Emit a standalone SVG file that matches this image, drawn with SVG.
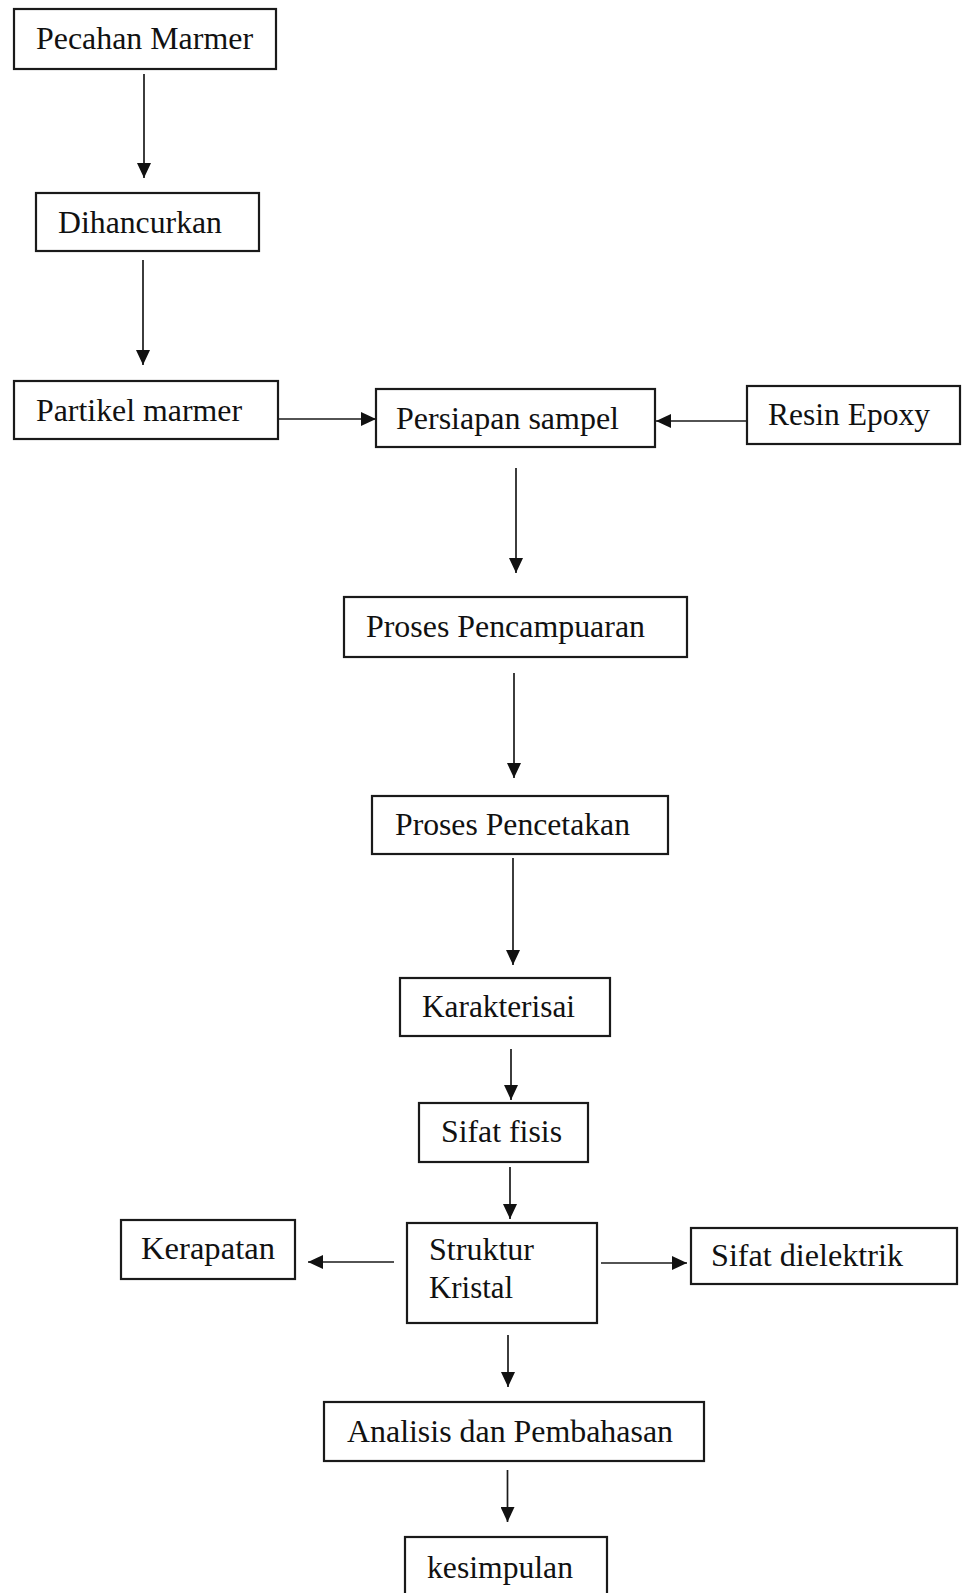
<svg xmlns="http://www.w3.org/2000/svg" width="962" height="1593" viewBox="0 0 962 1593">
<defs>
<style>
.box{fill:#fff;stroke:#1a1a1a;stroke-width:2.2}
.t{font-family:"Liberation Serif","Times New Roman",serif;font-size:32px;fill:#111}
.c{stroke:#1a1a1a;stroke-width:1.7;fill:none;marker-end:url(#ah)}
</style>
<marker id="ah" viewBox="0 0 15 14" refX="15" refY="7" markerWidth="15" markerHeight="14" markerUnits="userSpaceOnUse" orient="auto">
<path d="M0,0 L15,7 L0,14 Z" fill="#111"/>
</marker>
</defs>
<rect width="962" height="1593" fill="#fff"/>
<g id="connectors">
<line class="c" x1="144" y1="74" x2="144" y2="178"/>
<line class="c" x1="143" y1="260" x2="143" y2="365"/>
<line class="c" x1="278" y1="419" x2="376" y2="419"/>
<line class="c" x1="747" y1="421" x2="656" y2="421"/>
<line class="c" x1="516" y1="468" x2="516" y2="573"/>
<line class="c" x1="514" y1="673" x2="514" y2="778"/>
<line class="c" x1="513" y1="858" x2="513" y2="965"/>
<line class="c" x1="511" y1="1049" x2="511" y2="1100"/>
<line class="c" x1="510" y1="1167" x2="510" y2="1219"/>
<line class="c" x1="394" y1="1262" x2="308" y2="1262"/>
<line class="c" x1="601" y1="1263" x2="687" y2="1263"/>
<line class="c" x1="508" y1="1335" x2="508" y2="1387"/>
<line class="c" x1="507.5" y1="1470" x2="507.5" y2="1522"/>
</g>
<g id="pecahan-marmer">
<rect class="box" x="14" y="9" width="262" height="60"/>
<text class="t" x="36" y="49" textLength="217" lengthAdjust="spacingAndGlyphs">Pecahan Marmer</text>
</g>
<g id="dihancurkan">
<rect class="box" x="36" y="193" width="223" height="58"/>
<text class="t" x="58" y="233" textLength="164" lengthAdjust="spacingAndGlyphs">Dihancurkan</text>
</g>
<g id="partikel-marmer">
<rect class="box" x="14" y="381" width="264" height="58"/>
<text class="t" x="36" y="421" textLength="206" lengthAdjust="spacingAndGlyphs">Partikel marmer</text>
</g>
<g id="persiapan-sampel">
<rect class="box" x="376" y="389" width="279" height="58"/>
<text class="t" x="396" y="429" textLength="223" lengthAdjust="spacingAndGlyphs">Persiapan sampel</text>
</g>
<g id="resin-epoxy">
<rect class="box" x="747" y="386" width="213" height="58"/>
<text class="t" x="768" y="425" textLength="162" lengthAdjust="spacingAndGlyphs">Resin Epoxy</text>
</g>
<g id="proses-pencampuaran">
<rect class="box" x="344" y="597" width="343" height="60"/>
<text class="t" x="366" y="637" textLength="279" lengthAdjust="spacingAndGlyphs">Proses Pencampuaran</text>
</g>
<g id="proses-pencetakan">
<rect class="box" x="372" y="796" width="296" height="58"/>
<text class="t" x="395" y="835" textLength="235" lengthAdjust="spacingAndGlyphs">Proses Pencetakan</text>
</g>
<g id="karakterisai">
<rect class="box" x="400" y="978" width="210" height="58"/>
<text class="t" x="422" y="1017" textLength="153" lengthAdjust="spacingAndGlyphs">Karakterisai</text>
</g>
<g id="sifat-fisis">
<rect class="box" x="419" y="1103" width="169" height="59"/>
<text class="t" x="441" y="1142" textLength="121" lengthAdjust="spacingAndGlyphs">Sifat fisis</text>
</g>
<g id="struktur-kristal">
<rect class="box" x="407" y="1223" width="190" height="100"/>
<text class="t" x="429" y="1260" textLength="105" lengthAdjust="spacingAndGlyphs">Struktur</text>
<text class="t" x="429" y="1298" textLength="84" lengthAdjust="spacingAndGlyphs">Kristal</text>
</g>
<g id="kerapatan">
<rect class="box" x="121" y="1220" width="174" height="59"/>
<text class="t" x="141" y="1259" textLength="134" lengthAdjust="spacingAndGlyphs">Kerapatan</text>
</g>
<g id="sifat-dielektrik">
<rect class="box" x="691" y="1228" width="266" height="56"/>
<text class="t" x="711" y="1266" textLength="192" lengthAdjust="spacingAndGlyphs">Sifat dielektrik</text>
</g>
<g id="analisis-dan-pembahasan">
<rect class="box" x="324" y="1402" width="380" height="59"/>
<text class="t" x="347" y="1442" textLength="326" lengthAdjust="spacingAndGlyphs">Analisis dan Pembahasan</text>
</g>
<g id="kesimpulan">
<rect class="box" x="405" y="1537" width="202" height="80"/>
<text class="t" x="427" y="1578" textLength="146" lengthAdjust="spacingAndGlyphs">kesimpulan</text>
</g>
</svg>
